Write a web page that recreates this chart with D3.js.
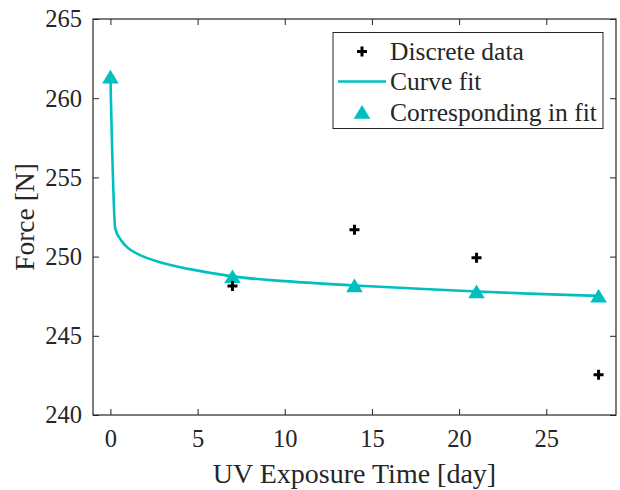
<!DOCTYPE html>
<html>
<head>
<meta charset="utf-8">
<script src="https://cdn.jsdelivr.net/npm/d3@7"></script>
<style>
  body { margin: 0; background: #fff; }
  text { font-family: "Liberation Serif", "DejaVu Serif", serif; fill: #262626; }
</style>
</head>
<body>
<script>
// measured data (discrete)
const dataDays = [7, 14, 21, 28];
const dataForce = [248.15, 251.7, 249.92, 242.54];

// fitted values at the measurement days
const fitDays = [0, 7, 14, 21, 28];
const fitForce = [261.35, 248.75, 248.18, 247.8, 247.52];

// fitted curve
const curveDays = [0, 0.28, 0.6, 1, 1.5, 2, 3, 4, 5, 7, 10, 14, 18, 21, 24, 28];
const curveForce = [261.35, 251.75, 251.05, 250.55, 250.2, 249.95, 249.6, 249.33, 249.12, 248.75, 248.45, 248.18, 247.95, 247.8, 247.66, 247.52];

const xTicks = [0, 5, 10, 15, 20, 25];
const yTicks = [240, 245, 250, 255, 260, 265];

const width = 620,
  height = 490;
const margin = { left: 93, right: 4, top: 19, bottom: 75 };
const cyan = "#00bfbf";

const svg = d3
  .select("body")
  .append("svg")
  .attr("width", width)
  .attr("height", height);

const x = d3.scaleLinear().domain([-1, 29]).range([margin.left, width - margin.right]);
const y = d3.scaleLinear().domain([240, 265]).range([height - margin.bottom, margin.top]);

// axes, ticks point inward on all four sides
const axisColor = "#262626";
const tickLen = 6;

svg.append("g")
  .attr("transform", `translate(0,${y(240)})`)
  .call(d3.axisBottom(x).tickValues(xTicks).tickSizeInner(-tickLen).tickSizeOuter(0).tickPadding(15))
  .call((g) => g.select(".domain").remove())
  .call((g) => g.selectAll("text").attr("font-size", 24.5).attr("dy", "0.71em"));

svg.append("g")
  .attr("transform", `translate(0,${y(265)})`)
  .call(d3.axisTop(x).tickValues(xTicks).tickSizeInner(-tickLen).tickSizeOuter(0).tickFormat(""))
  .call((g) => g.select(".domain").remove());

svg.append("g")
  .attr("transform", `translate(${x(-1)},0)`)
  .call(d3.axisLeft(y).tickValues(yTicks).tickSizeInner(-tickLen).tickSizeOuter(0).tickPadding(11))
  .call((g) => g.select(".domain").remove())
  .call((g) => g.selectAll("text").attr("font-size", 24.5));

svg.append("g")
  .attr("transform", `translate(${x(29)},0)`)
  .call(d3.axisRight(y).tickValues(yTicks).tickSizeInner(-tickLen).tickSizeOuter(0).tickFormat(""))
  .call((g) => g.select(".domain").remove());

svg.selectAll(".tick line").attr("stroke", axisColor);

svg.append("rect")
  .attr("x", x(-1))
  .attr("y", y(265))
  .attr("width", x(29) - x(-1))
  .attr("height", y(240) - y(265))
  .attr("fill", "none")
  .attr("stroke", axisColor)
  .attr("stroke-width", 1.2);

// axis labels
svg.append("text")
  .attr("x", (x(-1) + x(29)) / 2)
  .attr("y", 483)
  .attr("text-anchor", "middle")
  .attr("font-size", 28)
  .text("UV Exposure Time [day]");

svg.append("text")
  .attr("transform", `translate(34,${(y(240) + y(265)) / 2}) rotate(-90)`)
  .attr("text-anchor", "middle")
  .attr("font-size", 27.5)
  .text("Force [N]");

// curve fit
const line = d3
  .line()
  .x((d, i) => x(curveDays[i]))
  .y((d) => y(d))
  .curve(d3.curveMonotoneX);

svg.append("path")
  .datum(curveForce)
  .attr("d", line)
  .attr("fill", "none")
  .attr("stroke", cyan)
  .attr("stroke-width", 2.6);

// triangles
const triPath = "M0,-7L8.3,6.7L-8.3,6.7Z";

svg.append("g")
  .selectAll("path")
  .data(fitForce)
  .join("path")
  .attr("d", triPath)
  .attr("transform", (d, i) => `translate(${x(fitDays[i])},${y(d)})`)
  .attr("fill", cyan);

// plus markers
const plusPath = "M-5,0H5M0,-5V5";
svg.append("g")
  .selectAll("path")
  .data(dataForce)
  .join("path")
  .attr("d", plusPath)
  .attr("transform", (d, i) => `translate(${x(dataDays[i])},${y(d)})`)
  .attr("stroke", "#000")
  .attr("stroke-width", 3);

// legend
const legend = svg.append("g");
legend.append("rect")
  .attr("x", 333)
  .attr("y", 32.5)
  .attr("width", 270)
  .attr("height", 96)
  .attr("fill", "#fff")
  .attr("stroke", axisColor)
  .attr("stroke-width", 1);

const rowY = [51.5, 81.5, 112];
legend.append("path")
  .attr("d", plusPath)
  .attr("transform", `translate(362,${rowY[0]})`)
  .attr("stroke", "#000")
  .attr("stroke-width", 3);
legend.append("line")
  .attr("x1", 338)
  .attr("x2", 386)
  .attr("y1", rowY[1])
  .attr("y2", rowY[1])
  .attr("stroke", cyan)
  .attr("stroke-width", 2.6);
legend.append("path")
  .attr("d", triPath)
  .attr("transform", `translate(362,${rowY[2]})`)
  .attr("fill", cyan);

const legendLabels = ["Discrete data", "Curve fit", "Corresponding in fit"];
legend.selectAll("text.lbl")
  .data(legendLabels)
  .join("text")
  .attr("class", "lbl")
  .attr("x", 390)
  .attr("y", (d, i) => rowY[i])
  .attr("dy", "0.35em")
  .attr("font-size", 25.5)
  .text((d) => d);
</script>
</body>
</html>
